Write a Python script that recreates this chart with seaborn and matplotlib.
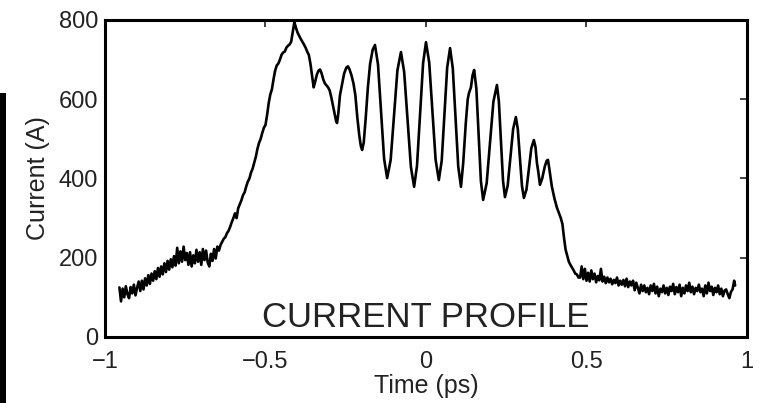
import numpy as np
import pandas as pd
import matplotlib
matplotlib.use("Agg")
import matplotlib.pyplot as plt
from matplotlib.patches import Rectangle
import seaborn as sns

# ---- data ----
left_t = [-0.955, -0.950, -0.945, -0.940, -0.935, -0.930, -0.925, -0.920, -0.915, -0.910,
          -0.905, -0.900, -0.895, -0.890, -0.885, -0.880, -0.875, -0.870, -0.865, -0.860,
          -0.855, -0.850, -0.845, -0.840, -0.835, -0.830, -0.825, -0.820, -0.815, -0.810,
          -0.805, -0.800, -0.795, -0.790, -0.785, -0.780, -0.775, -0.770, -0.765, -0.760,
          -0.755, -0.750, -0.745, -0.740, -0.735, -0.730, -0.725, -0.720, -0.715, -0.710,
          -0.705, -0.700, -0.695, -0.690, -0.685, -0.680, -0.675, -0.670, -0.665, -0.660,
          -0.655, -0.650]
left_i = [125, 90, 122, 100, 128, 108, 98, 126, 110, 132,
          105, 124, 140, 116, 142, 120, 148, 130, 156, 134,
          160, 142, 166, 146, 174, 152, 178, 158, 186, 164,
          192, 170, 196, 176, 204, 180, 225, 186, 216, 190,
          228, 194, 212, 182, 214, 178, 206, 186, 220, 190,
          214, 182, 222, 194, 218, 188, 178, 210, 192, 222,
          198, 228]

rise_t = [-0.645, -0.640, -0.635, -0.630, -0.625, -0.620, -0.615, -0.610, -0.605, -0.600,
          -0.595, -0.590, -0.585, -0.580, -0.575, -0.570, -0.565, -0.560, -0.555, -0.550,
          -0.545, -0.540, -0.535, -0.530, -0.525, -0.520, -0.515, -0.510, -0.505, -0.500,
          -0.495, -0.490, -0.485, -0.480, -0.475, -0.470, -0.465, -0.460, -0.455, -0.450,
          -0.445, -0.440, -0.435, -0.430, -0.425, -0.420, -0.415, -0.410]
rise_i = [218, 232, 240, 248, 252, 262, 268, 278, 290, 300,
          312, 300, 325, 335, 345, 358, 365, 380, 392, 400,
          415, 425, 440, 455, 475, 490, 500, 515, 528, 535,
          560, 590, 612, 625, 650, 672, 685, 690, 700, 712,
          718, 720, 730, 735, 738, 745, 770, 795]

peak_t = [-0.405, -0.400, -0.395, -0.390, -0.385, -0.380, -0.375, -0.370, -0.365, -0.360,
          -0.355, -0.350, -0.345, -0.340, -0.335, -0.330, -0.325, -0.320, -0.315, -0.310,
          -0.305, -0.300, -0.295, -0.290, -0.285, -0.280, -0.277, -0.273, -0.268, -0.262,
          -0.255, -0.248, -0.243, -0.238, -0.232, -0.226, -0.220, -0.214, -0.208, -0.203,
          -0.199, -0.194, -0.188, -0.181, -0.174, -0.166]
peak_i = [780, 768, 760, 752, 745, 738, 730, 720, 712, 690,
          660, 630, 645, 662, 672, 675, 665, 650, 640, 635,
          630, 622, 605, 585, 565, 545, 540, 565, 610, 636,
          665, 680, 683, 675, 660, 640, 610, 555, 510, 482,
          472, 490, 550, 630, 690, 725]

osc_t = [-0.159, -0.1495, -0.140, -0.1305, -0.121, -0.110, -0.0995, -0.089, -0.078,
         -0.068, -0.0575, -0.047, -0.037, -0.028, -0.0185, -0.009, 0.000,
         0.010, 0.020, 0.030, 0.040, 0.049, 0.0575, 0.066, 0.075,
         0.0835, 0.092, 0.1005, 0.109, 0.116, 0.124, 0.130, 0.134, 0.140, 0.145, 0.150,
         0.157, 0.164, 0.171, 0.178, 0.189, 0.1995, 0.210, 0.221,
         0.227, 0.2335, 0.240, 0.246, 0.2545, 0.263, 0.2715, 0.280,
         0.286, 0.2925, 0.299, 0.305, 0.313, 0.3205, 0.328, 0.336,
         0.341, 0.3455, 0.350, 0.355, 0.362, 0.370, 0.376, 0.380]
osc_i = [737, 688, 569, 450, 401, 447, 560, 673, 719,
         669, 549, 429, 379, 432, 562, 691, 744,
         693, 570, 447, 396, 445, 563, 680, 729,
         678, 554, 430, 379, 440, 540, 600, 616, 630, 660, 674,
         626, 510, 394, 346, 388, 491, 594, 636,
         595, 494, 394, 353, 382, 454, 525, 555,
         525, 453, 381, 351, 372, 424, 476, 497,
         480, 440, 416, 384, 400, 430, 445, 447]

fall_t = [0.385, 0.392, 0.400, 0.408, 0.413, 0.420, 0.425, 0.430, 0.435, 0.440,
          0.445, 0.450, 0.455, 0.460, 0.465, 0.470, 0.475]
fall_i = [420, 380, 350, 326, 315, 300, 285, 250, 220, 205,
          190, 182, 175, 168, 160, 158, 150]

right_t = [0.480, 0.485, 0.490, 0.495, 0.500, 0.505, 0.510, 0.515, 0.520, 0.525,
           0.530, 0.535, 0.540, 0.545, 0.550, 0.555, 0.560, 0.565, 0.570, 0.575,
           0.580, 0.585, 0.590, 0.595, 0.600, 0.605, 0.610, 0.615, 0.620, 0.625,
           0.630, 0.635, 0.640, 0.645, 0.650, 0.655, 0.660, 0.665, 0.670, 0.675,
           0.680, 0.685, 0.690, 0.695, 0.700, 0.705, 0.710, 0.715, 0.720, 0.725,
           0.730, 0.735, 0.740, 0.745, 0.750, 0.755, 0.760, 0.765, 0.770, 0.775,
           0.780, 0.785, 0.790, 0.795, 0.800, 0.805, 0.810, 0.815, 0.820, 0.825,
           0.830, 0.835, 0.840, 0.845, 0.850, 0.855, 0.860, 0.865, 0.870, 0.875,
           0.880, 0.885, 0.890, 0.895, 0.900, 0.905, 0.910, 0.915, 0.920, 0.925,
           0.930, 0.935, 0.940, 0.945, 0.950, 0.955, 0.960, 0.963]
right_i = [150, 178, 146, 172, 142, 162, 140, 168, 146, 160,
           138, 154, 143, 172, 140, 152, 136, 150, 138, 147,
           133, 144, 136, 150, 130, 142, 132, 144, 128, 147,
           126, 140, 130, 142, 118, 137, 123, 110, 132, 116,
           130, 113, 124, 108, 130, 116, 134, 110, 127, 103,
           122, 113, 130, 110, 124, 106, 127, 116, 134, 108,
           126, 113, 132, 103, 124, 110, 130, 116, 137, 113,
           127, 108, 124, 116, 132, 113, 122, 103, 130, 110,
           137, 116, 127, 106, 124, 113, 130, 108, 122, 103,
           117, 120, 108, 98, 114, 120, 142, 130]

x_ticks = [-1, -0.5, 0, 0.5, 1]
x_tick_labels = ["\u22121", "\u22120.5", "0", "0.5", "1"]
y_ticks = [0, 200, 400, 600, 800]

time_ps = left_t + rise_t + peak_t + osc_t + fall_t + right_t
current_a = left_i + rise_i + peak_i + osc_i + fall_i + right_i
df = pd.DataFrame({"Time (ps)": time_ps, "Current (A)": current_a})

# ---- style ----
sns.set_style("white")
plt.rcParams["font.family"] = ["Liberation Sans", "DejaVu Sans"]

fig = plt.figure(figsize=(7.59, 4.03), dpi=100)
ax = fig.add_axes([0.1383, 0.1638, 0.8459, 0.7866])

sns.lineplot(data=df, x="Time (ps)", y="Current (A)", ax=ax, color="black",
             linewidth=1.9, sort=False, estimator=None)

ax.set_xlim(-1, 1)
ax.set_ylim(0, 800)
ax.set_xticks(x_ticks)
ax.set_xticklabels(x_tick_labels)
ax.set_yticks(y_ticks)
ax.tick_params(direction="in", length=5, width=1.2, top=True, right=True,
               labelsize=17, colors="#222222")
ax.tick_params(axis="y", pad=5)
ax.tick_params(axis="x", pad=10)
for s in ax.spines.values():
    s.set_linewidth(2.2)
    s.set_color("black")
ax.set_xlabel("Time (ps)", fontsize=18, labelpad=1, color="#222222")
ax.set_ylabel("Current (A)", fontsize=18, labelpad=6, color="#222222")

ax.text(0.0, 48, "CURRENT PROFILE", fontsize=25, ha="center", va="center",
        color="#222222")

# cropped edge of a neighbouring panel at the far left
fig.patches.append(Rectangle((0, 0), 6 / 759, 310 / 403, transform=fig.transFigure,
                             facecolor="black", edgecolor="none"))

fig.savefig("out.png", dpi=100)
